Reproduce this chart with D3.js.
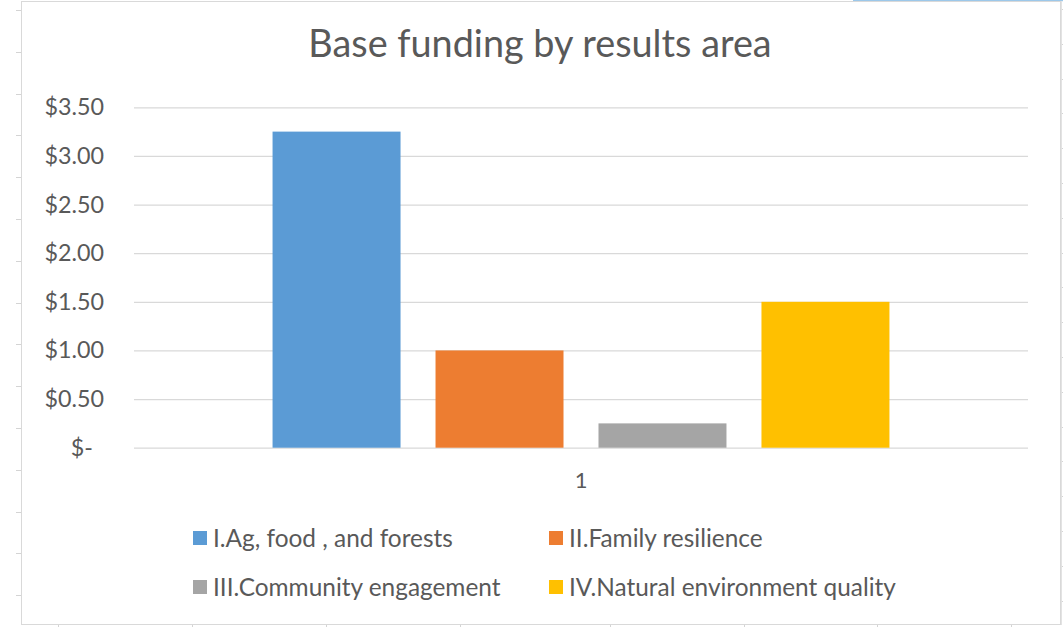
<!DOCTYPE html>
<html>
<head>
<meta charset="utf-8">
<script src="https://cdn.jsdelivr.net/npm/d3@7"></script>
<style>
  html, body { margin: 0; padding: 0; background: #ffffff; }
  svg { display: block; }
  text { font-family: Lato, "Open Sans", "Liberation Sans", sans-serif; fill: #595959; }
</style>
</head>
<body>
<svg id="chart" width="1063" height="627"></svg>
<script>
// ---- data ----
const chartTitle = "Base funding by results area";
const categories = ["1"];
const seriesNames = [
  "I.Ag, food , and forests",
  "II.Family resilience",
  "III.Community engagement",
  "IV.Natural environment quality"
];
const seriesValues = [3.25, 1.00, 0.25, 1.50];
const seriesColors = ["#5b9bd5", "#ed7d31", "#a5a5a5", "#ffc000"];
const yTickValues = [0, 0.5, 1.0, 1.5, 2.0, 2.5, 3.0, 3.5];

// worksheet cell grid showing around the chart object
const sheetRowLines = d3.range(10, 627, 41.8);
const sheetRightRowLines = d3.range(9, 627, 34.8);
const sheetColumnLines = [58, 192, 326, 460, 610, 744, 877, 1011];

// ---- layout ----
const W = 1063, H = 627;
const frame = { left: 21, top: 1, right: 1060, bottom: 624 };
const plot = { left: 134, right: 1028, top: 107.3, bottom: 447.7 };

const svg = d3.select("#chart");

// worksheet background ticks
const sheet = svg.append("g").attr("stroke", "#d4d4d4").attr("stroke-width", 1);
sheet.selectAll("line.row").data(sheetRowLines).join("line")
  .attr("class", "row")
  .attr("x1", 16).attr("x2", frame.left)
  .attr("y1", d => Math.round(d) + 0.5).attr("y2", d => Math.round(d) + 0.5);
sheet.selectAll("line.rrow").data(sheetRightRowLines).join("line")
  .attr("class", "rrow")
  .attr("x1", frame.right).attr("x2", W)
  .attr("y1", d => Math.round(d) + 0.5).attr("y2", d => Math.round(d) + 0.5);
sheet.selectAll("line.col").data(sheetColumnLines).join("line")
  .attr("class", "col")
  .attr("x1", d => d + 0.5).attr("x2", d => d + 0.5)
  .attr("y1", frame.bottom).attr("y2", H);
// selected-cell highlight along the top edge
svg.append("line")
  .attr("x1", 853).attr("x2", W).attr("y1", 0.5).attr("y2", 0.5)
  .attr("stroke", "#9cc8ea").attr("stroke-width", 1.5);

// chart area
svg.append("rect")
  .attr("x", frame.left + 0.5).attr("y", frame.top + 0.5)
  .attr("width", frame.right - frame.left).attr("height", frame.bottom - frame.top)
  .attr("fill", "#ffffff").attr("stroke", "#d9d9d9").attr("stroke-width", 1);
svg.append("line")
  .attr("x1", frame.right + 1.5).attr("x2", frame.right + 1.5)
  .attr("y1", frame.top).attr("y2", frame.bottom + 1)
  .attr("stroke", "#e3e3e3").attr("stroke-width", 1);

// ---- scales ----
const y = d3.scaleLinear().domain([0, 3.5]).range([plot.bottom, plot.top]);
const x0 = d3.scaleBand().domain(categories).range([plot.left, plot.right]).padding(0.1834);
const x1 = d3.scaleBand().domain(seriesNames).range([0, x0.bandwidth()])
  .paddingInner(0.2147).paddingOuter(0);

// ---- y axis with gridlines ----
const fmt = v => v === 0 ? "$-" : "$" + v.toFixed(2);
const yAxis = svg.append("g")
  .attr("transform", `translate(${plot.left},0)`)
  .call(d3.axisLeft(y).tickValues(yTickValues).tickFormat(fmt)
    .tickSize(-(plot.right - plot.left)).tickPadding(30));
yAxis.select(".domain").remove();
yAxis.selectAll(".tick line").attr("stroke", "#d9d9d9").attr("stroke-width", 1.3);
yAxis.selectAll(".tick text")
  .style("font-size", "23.3px").attr("fill", "#595959")
  .attr("dx", d => d === 0 ? -11 : 0);

// ---- bars ----
const groups = svg.append("g").selectAll("g").data(categories).join("g")
  .attr("transform", d => `translate(${x0(d)},0)`);
groups.selectAll("rect")
  .data(() => seriesNames.map((name, i) => ({ name, value: seriesValues[i], color: seriesColors[i] })))
  .join("rect")
  .attr("x", d => x1(d.name))
  .attr("width", x1.bandwidth())
  .attr("y", d => y(d.value))
  .attr("height", d => y(0) - y(d.value))
  .attr("fill", d => d.color);

// ---- category axis ----
const xAxis = svg.append("g")
  .attr("transform", `translate(0,${plot.bottom})`)
  .call(d3.axisBottom(x0).tickSize(0).tickPadding(25));
xAxis.select(".domain").remove();
xAxis.selectAll(".tick text").style("font-size", "22px").attr("fill", "#595959");

// ---- title ----
svg.append("text")
  .attr("x", (plot.left + plot.right) / 2 - 41).attr("y", 57)
  .attr("text-anchor", "middle")
  .style("font-size", "37.8px")
  .text(chartTitle);

// ---- legend ----
const legendCols = [193, 549];
const legendRows = [538, 587];
const legend = svg.append("g").selectAll("g").data(seriesNames).join("g")
  .attr("transform", (d, i) => `translate(${legendCols[i % 2]},${legendRows[Math.floor(i / 2)]})`);
legend.append("rect")
  .attr("x", 0).attr("y", -7).attr("width", 14).attr("height", 14)
  .attr("fill", (d, i) => seriesColors[i]);
legend.append("text")
  .attr("x", 20).attr("y", 0).attr("dy", "0.35em")
  .style("font-size", "24.4px")
  .text(d => d);
</script>
</body>
</html>
